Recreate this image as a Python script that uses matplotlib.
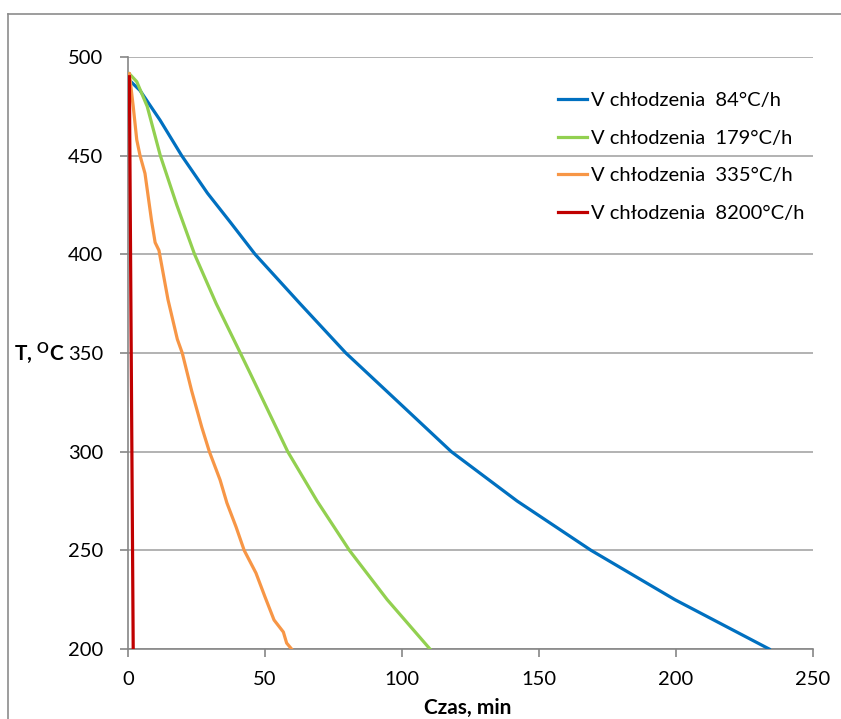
import matplotlib
matplotlib.use("Agg")
import matplotlib.pyplot as plt
from matplotlib.lines import Line2D

plt.rcParams['font.family'] = ['Lato', 'DejaVu Sans']
plt.rcParams['mathtext.fontset'] = 'custom'
plt.rcParams['mathtext.rm'] = 'Lato'
plt.rcParams['mathtext.bf'] = 'Lato:bold'

# --- data ---
labels = ["V chłodzenia  84°C/h", "V chłodzenia  179°C/h",
          "V chłodzenia  335°C/h", "V chłodzenia  8200°C/h"]
colors = ["#0070C0", "#92D050", "#F79646", "#C00000"]

blue_t = [0.7, 4.4, 11.7, 19.6, 29.0, 37.5, 46.4, 62.8, 79.5, 98.0, 118.0, 142.0,
          169.0, 199.6, 234.0]
blue_T = [488, 483, 468, 450, 431, 416, 400, 375, 350, 326, 300, 275,
          250, 225, 200]

green_t = [0.5, 3.2, 7.0, 11.8, 17.8, 24.3, 32.2, 41.0, 44.5, 58.3, 69.0, 80.8, 94.6, 110.2]
green_T = [491.5, 487.5, 475, 450, 425, 400, 375, 350, 340, 300, 275, 250, 225, 200]

orange_t = [0.5, 1.9, 3.2, 4.4, 6.2, 8.6, 9.9, 11.3, 14.6, 18.0, 19.8, 23.2, 26.9, 29.7,
            33.6, 36.1, 39.4, 42.4, 46.7, 50.0, 53.3, 56.7, 57.9, 59.7]
orange_T = [491.5, 475, 458, 450, 441, 417, 406, 402, 377, 357, 350, 331, 312.5, 300,
            285.7, 274, 262, 250, 238.5, 226.4, 214.7, 208.6, 203, 200]

red_t = [0.5, 1.9]
red_T = [490, 200]

series = [(blue_t, blue_T), (green_t, green_T), (orange_t, orange_T), (red_t, red_T)]

W, H = 841, 719
fig = plt.figure(figsize=(W / 100, H / 100), dpi=100)
ax = fig.add_axes([128 / W, 1 - 649 / H, (813 - 128) / W, (649 - 57) / H])

grid_c = "#A6A6A6"
axis_c = "#868686"

for (t, T), c, lab in zip(series, colors, labels):
    ax.plot(t, T, color=c, lw=2.3, label=lab, solid_joinstyle='round', zorder=3)

ax.set_xlim(0, 250)
ax.set_ylim(200, 500)
ax.set_xticks(range(0, 251, 50))
ax.set_yticks(range(200, 501, 50))
ax.yaxis.grid(True, color=grid_c, lw=1.2)
ax.set_axisbelow(True)
for s in ['top', 'right']:
    ax.spines[s].set_visible(False)
for s in ['left', 'bottom']:
    ax.spines[s].set_color(axis_c)
    ax.spines[s].set_linewidth(1.2)
ax.tick_params(axis='both', colors=axis_c, length=6, width=1.2, labelsize=14.5,
               labelcolor='black', direction='out')
ax.tick_params(axis='y', pad=12)
ax.tick_params(axis='x', pad=10)

# legend without frame, grid shows through
handles = [Line2D([], [], color=c, lw=2.3) for c in colors]
fig.legend(handles, labels, loc='upper left', bbox_to_anchor=(550 / W, 1 - 84 / H),
           frameon=False, fontsize=14.5, handlelength=1.45, handletextpad=0.2,
           labelspacing=1.02, borderaxespad=0)

# axis titles
fig.text(14 / W, 1 - 353 / H, r"T, $\mathbf{^{O}}$C", fontsize=15, fontweight='bold',
         ha='left', va='center')
fig.text(468 / W, 1 / H, "Czas, min", fontsize=15, fontweight='bold',
         ha='center', va='bottom')

# outer chart frame
fig.add_artist(Line2D([8 / W, 8 / W], [0, 1 - 14 / H], color="#8C8C8C", lw=1.2,
                      transform=fig.transFigure))
fig.add_artist(Line2D([8 / W, 1], [1 - 14 / H, 1 - 14 / H], color="#8C8C8C", lw=1.2,
                      transform=fig.transFigure))

fig.savefig("out.png", dpi=100)
